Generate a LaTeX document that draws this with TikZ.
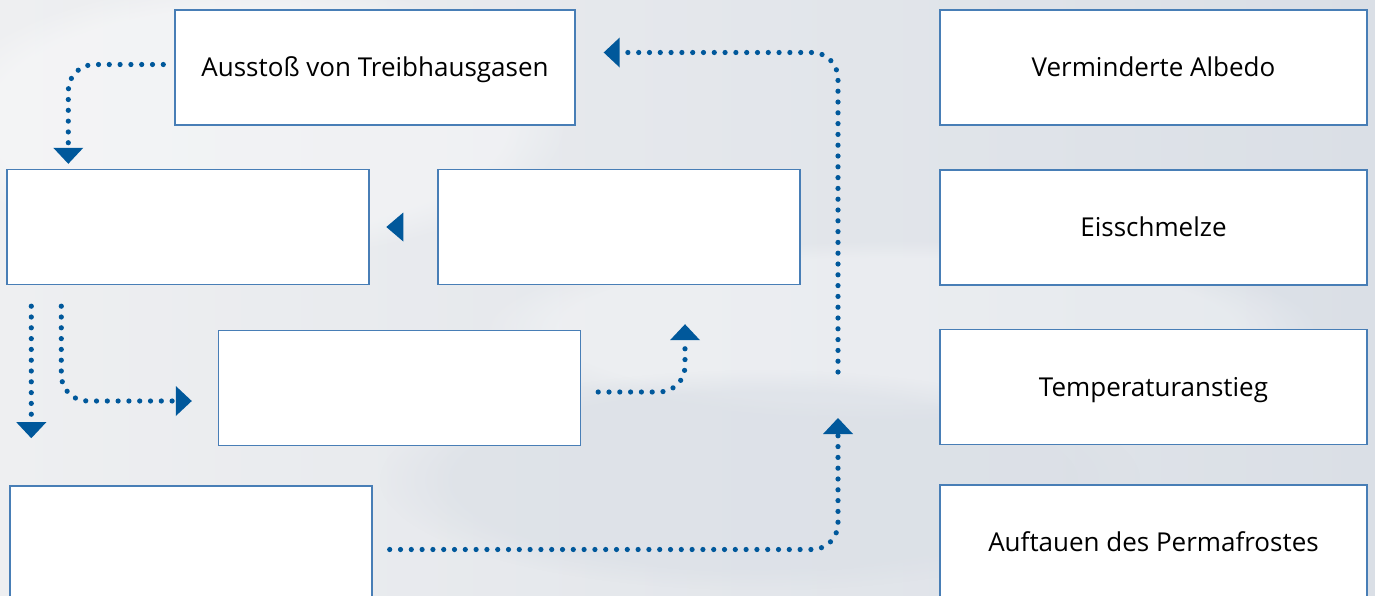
\documentclass[tikz,border=0pt]{standalone}
\usepackage{fontspec}
\setmainfont{Open Sans}
\usetikzlibrary{arrows.meta, positioning, calc, fadings}
\definecolor{flowblue}{RGB}{0,88,155}
\definecolor{boxline}{RGB}{72,126,182}
\definecolor{snowlight}{RGB}{238,239,241}
\definecolor{snowdark}{RGB}{218,223,230}

\begin{document}
\begin{tikzpicture}[
    x=0.5pt, y=-0.5pt,
    box/.style={draw=boxline, line width=0.7pt, fill=white, inner sep=0pt,
                minimum height=57.5pt, text height=12.5pt, text depth=3.2pt,
                font=\fontsize{13}{15}\selectfont},
    emptybox/.style={box, minimum width=181pt},
    causebox/.style={box, minimum width=200pt},
    effectbox/.style={box, minimum width=213.5pt},
    flow/.style={draw=flowblue, line width=2.6pt, line cap=round,
                 dash pattern=on 0pt off 5.4pt, rounded corners=13pt,
                 -{Triangle[width=15pt, length=8pt, line width=0pt]}},
]
\useasboundingbox (0,0) rectangle (1375,595);

% Background (snow)
\shade[shading angle=135, left color=snowlight, right color=snowdark]
    (0,0) rectangle (1375,595);
\fill[white, opacity=0.35, path fading=circle with fuzzy edge 20 percent]
    (250,120) ellipse [x radius=320, y radius=140];
\fill[white, opacity=0.3, path fading=circle with fuzzy edge 20 percent]
    (900,330) ellipse [x radius=420, y radius=90];
\fill[snowdark, opacity=0.6, path fading=circle with fuzzy edge 20 percent]
    (760,480) ellipse [x radius=380, y radius=110];

% Left part: cause and blanks
\node[causebox] (ausstoss) at (375,67.5) {Ausstoß von Treibhausgasen};
\node[emptybox] (leer1) at (188,227) {};
\node[emptybox] (leer2) at (619,227) {};
\node[emptybox] (leer3) at (399.5,388) {};
\node[emptybox] (leer4) at (191,543.5) {};

% Right part: effects
\node[effectbox] (albedo) at (1153.5,67.5) {Verminderte Albedo};
\node[effectbox] (schmelze) at (1153.5,227.5) {Eisschmelze};
\node[effectbox] (temperatur) at (1153.5,387) {Temperaturanstieg};
\node[effectbox] (permafrost) at (1153.5,542.5) {Auftauen des Permafrostes};

% Free ends
\coordinate (drop) at ($(leer1.south west)+(25,153)$);
\coordinate (rise) at (838,418);
\coordinate (loop) at (838,372);

% Arrows
\draw[flow] ($(ausstoss.west)+(-11,-3)$) -| ($(leer1.north west)+(62,-5)$);
\draw[flow] ($(leer1.south west)+(25,21)$) -- (drop);
\draw[flow] ($(leer1.south west)+(55,21)$) |- ($(leer3.west)+(-26,13)$);
\draw[flow] ($(leer3.east)+(17,4)$) -| ($(leer2.south)+(66,39)$);
\draw[flow] ($(leer4.east)+(17,6)$) -| (rise);
\draw[flow] (loop) |- ($(ausstoss.east)+(28,-15)$);

% Lone arrowhead
\fill[flowblue] ($(leer2.west)+(-51,0)$) -- ++(17,-14.5) -- ++(0,29) -- cycle;

\end{tikzpicture}
\end{document}
